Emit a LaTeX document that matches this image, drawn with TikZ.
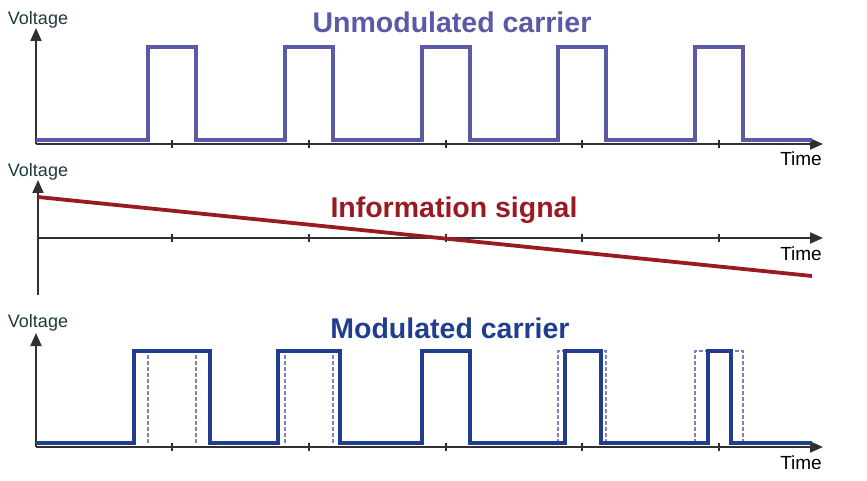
\documentclass[tikz,border=0pt]{standalone}
\usepackage{fontspec}
\setmainfont{Liberation Sans}
\usepackage{tikz}
\usetikzlibrary{arrows.meta,calc}

\definecolor{carrierblue}{HTML}{5A5AA6}
\definecolor{dashblue}{HTML}{8080C0}
\definecolor{signalred}{HTML}{9A1A22}
\definecolor{modblue}{HTML}{203E8E}
\definecolor{axisgray}{HTML}{303030}
\definecolor{labelteal}{HTML}{1E3A3A}

\begin{document}
\begin{tikzpicture}[x=1pt,y=-1pt]
	\tikzstyle{axis} = [draw=axisgray, line width=2pt, -{Triangle[length=13pt,width=11pt]}]
	\tikzstyle{tick} = [draw=axisgray, line width=1.6pt]
	\tikzstyle{wave} = [line width=3.4pt, line join=miter]
	\tikzstyle{ghost} = [draw=dashblue, line width=1.2pt, dash pattern=on 4pt off 2pt]
	\tikzstyle{ylabel} = [inner sep=0, anchor=base, text=labelteal, font=\fontsize{18}{20}\selectfont]
	\tikzstyle{tlabel} = [inner sep=0, anchor=base east, text=black, font=\fontsize{19}{21}\selectfont]
	\tikzstyle{title} = [inner sep=0, anchor=base, font=\bfseries\fontsize{28.5}{30}\selectfont]
	\useasboundingbox (0,0) rectangle (867,481);

	\coordinate (O1) at (36,144);
	\coordinate (V1) at (36,28);
	\coordinate (T1) at (823,144);
	\coordinate (O2) at (38,238);
	\coordinate (B2) at (38,295);
	\coordinate (V2) at (38,180);
	\coordinate (T2) at (823,238);
	\coordinate (O3) at (36,447);
	\coordinate (V3) at (36,333);
	\coordinate (T3) at (823,447);

	\draw[axis] (O1) -- (V1);
	\draw[axis] (O1) -- (T1);
	\draw[axis] (B2) -- (V2);
	\draw[axis] (O2) -- (T2);
	\draw[axis] (O3) -- (V3);
	\draw[axis] (O3) -- (T3);

	\draw[tick] (172,140) -- (172,148) (309,140) -- (309,148) (446,140) -- (446,148)
		(582,140) -- (582,148) (719,140) -- (719,148);
	\draw[tick] (172,234) -- (172,242) (309,234) -- (309,242) (446,234) -- (446,242)
		(582,234) -- (582,242) (719,234) -- (719,242);
	\draw[tick] (172,443) -- (172,451) (309,443) -- (309,451) (446,443) -- (446,451)
		(582,443) -- (582,451) (719,443) -- (719,451);

	\draw[wave, carrierblue] (36,140) -- (148,140) -- (148,47) -- (196,47) -- (196,140)
		-- (285,140) -- (285,47) -- (333,47) -- (333,140)
		-- (422,140) -- (422,47) -- (470,47) -- (470,140)
		-- (558,140) -- (558,47) -- (606,47) -- (606,140)
		-- (695,140) -- (695,47) -- (743,47) -- (743,140) -- (812,140);

	\coordinate (S1) at (38,197);
	\coordinate (S2) at (812,276);
	\draw[signalred, line width=3.8pt] (S1) -- (S2);

	\draw[ghost] (148,443) -- (148,351) -- (196,351) -- (196,443);
	\draw[ghost] (285,443) -- (285,351) -- (333,351) -- (333,443);
	\draw[ghost] (558,443) -- (558,351) -- (606,351) -- (606,443);
	\draw[ghost] (695,443) -- (695,351) -- (743,351) -- (743,443);

	\draw[wave, modblue] (36,443) -- (134,443) -- (134,351) -- (210,351) -- (210,443)
		-- (278,443) -- (278,351) -- (340,351) -- (340,443)
		-- (422,443) -- (422,351) -- (470,351) -- (470,443)
		-- (565,443) -- (565,351) -- (601,351) -- (601,443)
		-- (708,443) -- (708,351) -- (731,351) -- (731,443) -- (812,443);

	\node[ylabel] at (38,25) {Voltage};
	\node[ylabel] at (38,177) {Voltage};
	\node[ylabel] at (38,327) {Voltage};
	\node[tlabel] at (822,166) {Time};
	\node[tlabel] at (822,260) {Time};
	\node[tlabel] at (822,469) {Time};

	\node[title, text=carrierblue] at (452,33) {Unmodulated carrier};
	\node[title, text=signalred] at (454,218) {Information signal};
	\node[title, text=modblue] at (450,338) {Modulated carrier};
\end{tikzpicture}
\end{document}
